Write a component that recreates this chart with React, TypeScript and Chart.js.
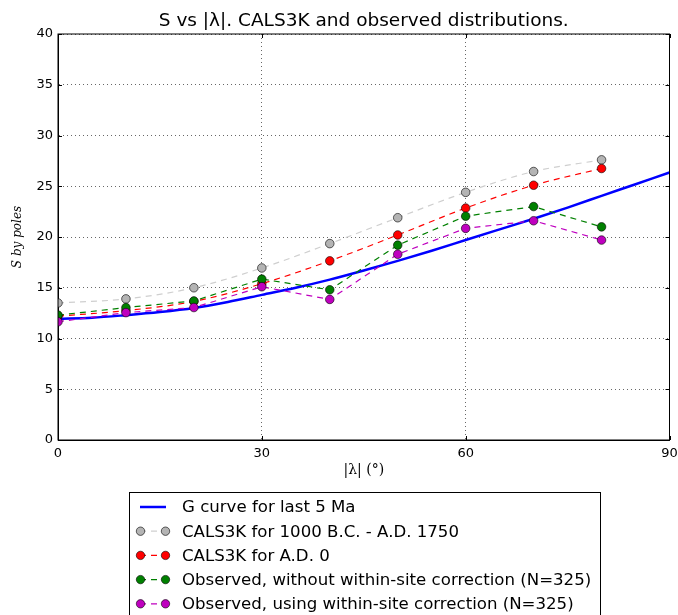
import React, { useEffect, useRef } from "react";
import { Chart, registerables } from "chart.js";

Chart.register(...registerables);

const lat = [0, 10, 20, 30, 40, 50, 60, 70, 80];
const calsRange = [13.5, 13.9, 15.0, 16.95, 19.35, 21.9, 24.4, 26.45, 27.6];
const calsAD0 = [12.2, 12.75, 13.65, 15.4, 17.65, 20.2, 22.85, 25.1, 26.75];
const obsNoCorr = [12.3, 13.05, 13.7, 15.85, 14.8, 19.2, 22.05, 23.0, 21.0];
const obsCorr = [11.65, 12.55, 13.05, 15.1, 13.85, 18.3, 20.85, 21.6, 19.7];

const gLat = [0, 5, 10, 15, 20, 25, 30, 35, 40, 45, 50, 55, 60, 65, 70, 75, 80, 85, 90];
const gS = [11.95, 12.05, 12.3, 12.6, 13.0, 13.6, 14.3, 15.0, 15.8, 16.7, 17.65, 18.65, 19.7, 20.75, 21.8, 22.9, 24.05, 25.2, 26.35];

const xTicks = [0, 30, 60, 90];
const yTicks = [0, 5, 10, 15, 20, 25, 30, 35, 40];

const titleText = "S vs |λ|. CALS3K and observed distributions.";
const xTitle = "|λ| (°)";
const yTitle = "S by poles";

const labels = [
  "G curve for last 5 Ma",
  "CALS3K for 1000 B.C. - A.D. 1750",
  "CALS3K for A.D. 0",
  "Observed, without within-site correction (N=325)",
  "Observed, using within-site correction (N=325)",
];

const styles = [
  { line: "#0000ff", fill: null, width: 2.5, dash: [] as number[] },
  { line: "#cfcfcf", fill: "#b4b4b4", width: 1.2, dash: [6, 5] },
  { line: "#ff0000", fill: "#ff0000", width: 1.2, dash: [6, 5] },
  { line: "#008000", fill: "#008000", width: 1.2, dash: [6, 5] },
  { line: "#bf00bf", fill: "#bf00bf", width: 1.2, dash: [6, 5] },
];

const pts = (xs: number[], ys: number[]) => xs.map((x, i) => ({ x, y: ys[i] }));

const decorPlugin = {
  id: "decor",
  afterDraw(chart: any) {
    const { ctx, chartArea } = chart;
    const { left, right, top, bottom } = chartArea;
    const xs = chart.scales.x;
    const ys = chart.scales.y;
    ctx.save();
    // frame
    ctx.strokeStyle = "#000";
    ctx.lineWidth = 1;
    ctx.setLineDash([]);
    ctx.strokeRect(left, top, right - left, bottom - top);
    // inward ticks
    ctx.beginPath();
    yTicks.forEach((v) => {
      const y = Math.round(ys.getPixelForValue(v)) + 0.5;
      ctx.moveTo(left, y);
      ctx.lineTo(left + 4, y);
      ctx.moveTo(right, y);
      ctx.lineTo(right - 4, y);
    });
    xTicks.forEach((v) => {
      const x = Math.round(xs.getPixelForValue(v)) + 0.5;
      ctx.moveTo(x, top);
      ctx.lineTo(x, top + 4);
      ctx.moveTo(x, bottom);
      ctx.lineTo(x, bottom - 4);
    });
    ctx.stroke();
    // title
    ctx.fillStyle = "#000";
    ctx.font = "18.5px 'DejaVu Sans'";
    ctx.textAlign = "center";
    ctx.textBaseline = "middle";
    ctx.fillText(titleText, (left + right) / 2, 21);
    // legend
    const bx = 129.5, by = 492.5, bw = 471, bh = 140;
    ctx.fillStyle = "#fff";
    ctx.fillRect(bx, by, bw, bh);
    ctx.strokeStyle = "#000";
    ctx.lineWidth = 1;
    ctx.strokeRect(bx, by, bw, bh);
    ctx.font = "16.6px 'DejaVu Sans'";
    ctx.textAlign = "left";
    labels.forEach((lab, i) => {
      const cy = 507 + i * 24.2;
      const st = styles[i];
      ctx.strokeStyle = st.line;
      ctx.lineWidth = st.width;
      ctx.setLineDash(st.dash);
      ctx.beginPath();
      ctx.moveTo(140, cy);
      ctx.lineTo(166, cy);
      ctx.stroke();
      ctx.setLineDash([]);
      if (st.fill) {
        [140.5, 165.5].forEach((mx) => {
          ctx.beginPath();
          ctx.arc(mx, cy, 4.2, 0, Math.PI * 2);
          ctx.fillStyle = st.fill as string;
          ctx.fill();
          ctx.lineWidth = 0.8;
          ctx.strokeStyle = "rgba(0,0,0,0.75)";
          ctx.stroke();
        });
      }
      ctx.fillStyle = "#000";
      ctx.fillText(lab, 182, cy + 1);
    });
    ctx.restore();
  },
};

export default function App() {
  const ref = useRef<HTMLCanvasElement>(null);
  useEffect(() => {
    document.body.style.margin = "0";
    const markerDs = (i: number, ys: number[], smooth: boolean, order: number) => ({
      label: labels[i],
      data: pts(lat, ys),
      borderColor: styles[i].line,
      borderWidth: styles[i].width,
      borderDash: styles[i].dash,
      backgroundColor: styles[i].fill,
      pointBackgroundColor: styles[i].fill,
      pointBorderColor: "rgba(0,0,0,0.75)",
      pointBorderWidth: 0.8,
      pointRadius: 4.3,
      cubicInterpolationMode: smooth ? "monotone" : "default",
      tension: 0,
      order,
    });
    const chart = new Chart(ref.current as HTMLCanvasElement, {
      type: "line",
      data: {
        datasets: [
          {
            label: labels[0],
            data: pts(gLat, gS),
            borderColor: styles[0].line,
            borderWidth: styles[0].width,
            pointRadius: 0,
            cubicInterpolationMode: "monotone",
            order: 5,
          } as any,
          markerDs(1, calsRange, true, 4),
          markerDs(2, calsAD0, true, 3),
          markerDs(3, obsNoCorr, false, 2),
          markerDs(4, obsCorr, false, 1),
        ],
      },
      options: {
        animation: false,
        responsive: true,
        maintainAspectRatio: false,
        layout: { padding: { left: 0, right: 8.5, top: 34, bottom: 123 } },
        plugins: { legend: { display: false }, tooltip: { enabled: false }, title: { display: false } },
        scales: {
          x: {
            type: "linear",
            min: 0,
            max: 90,
            afterBuildTicks: (s: any) => {
              s.ticks = xTicks.map((v) => ({ value: v }));
            },
            afterFit: (s: any) => {
              s.height = 52;
              s.paddingLeft = 0;
              s.paddingRight = 0;
            },
            ticks: { color: "#000", padding: 6, font: { family: "'DejaVu Sans'", size: 13 } },
            grid: { color: "rgba(0,0,0,0.75)", lineWidth: 0.8, drawTicks: false },
            border: { display: true, color: "#000", dash: [1, 3] },
            title: {
              display: true,
              text: xTitle,
              color: "#000",
              font: { family: "'DejaVu Serif'", size: 14 },
              padding: { top: 0, bottom: 13 },
            },
          } as any,
          y: {
            type: "linear",
            min: 0,
            max: 40,
            afterBuildTicks: (s: any) => {
              s.ticks = yTicks.map((v) => ({ value: v }));
            },
            afterFit: (s: any) => {
              s.width = 58;
              s.paddingTop = 0;
              s.paddingBottom = 0;
            },
            ticks: { color: "#000", padding: 5, font: { family: "'DejaVu Sans'", size: 13 } },
            grid: { color: "rgba(0,0,0,0.75)", lineWidth: 0.8, drawTicks: false },
            border: { display: true, color: "#000", dash: [1, 3] },
            title: {
              display: true,
              text: yTitle,
              color: "#000",
              font: { family: "'DejaVu Serif'", size: 12, style: "italic" },
              padding: { top: 11, bottom: 0 },
            },
          } as any,
        },
      },
      plugins: [decorPlugin],
    });
    return () => chart.destroy();
  }, []);
  return (
    <div style={{ width: 678, height: 615, position: "absolute", left: 0, top: 0 }}>
      <canvas ref={ref} style={{ display: "block" }} />
    </div>
  );
}
